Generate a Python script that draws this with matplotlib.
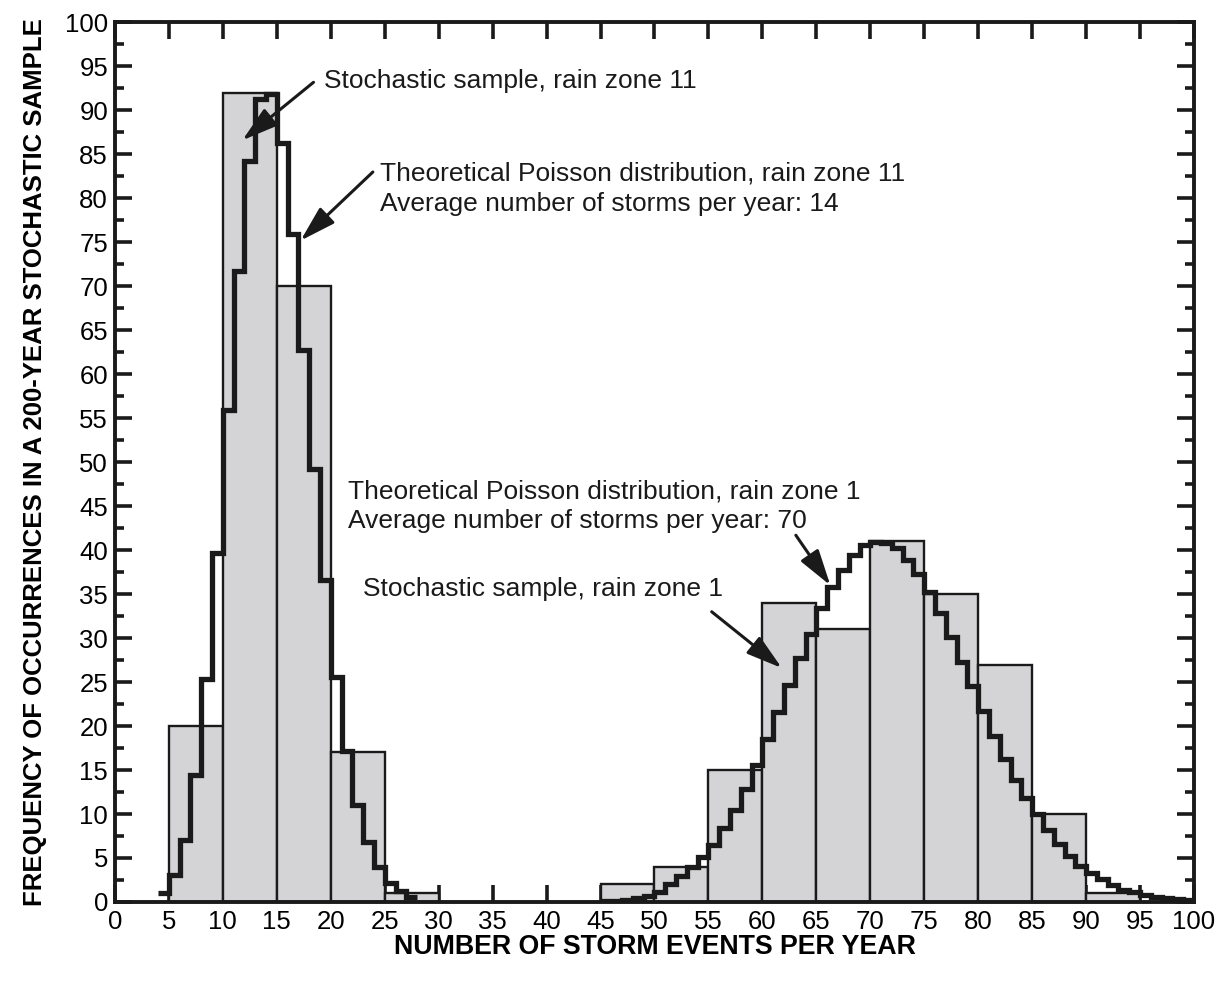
import numpy as np
import matplotlib.pyplot as plt
from matplotlib.ticker import MultipleLocator

plt.rcParams['font.family'] = ['Liberation Sans', 'DejaVu Sans']

# stochastic sample: number of years in each 5-storm bin
bin_left = [5, 10, 15, 20, 25, 45, 50, 55, 60, 65, 70, 75, 80, 85, 90]
bin_count = [20, 92, 70, 17, 1, 2, 4, 15, 34, 31, 41, 35, 27, 10, 1]

# theoretical Poisson curves, one step per storm count
zone11_start = 4
zone11_freq = [1.0, 3.1, 7.1, 14.4, 25.3, 39.7, 55.9, 71.7, 84.2, 91.3,
               91.9, 86.3, 75.9, 62.8, 49.2, 36.6, 25.6, 17.2, 11.0, 6.8,
               4.0, 2.2, 1.3, 0.6]
zone1_start = 45
zone1_freq = [0.1, 0.15, 0.25, 0.4, 0.7, 1.1, 2.0, 2.9, 4.0, 5.1,
              6.5, 8.4, 10.5, 12.9, 15.6, 18.5, 21.6, 24.7, 27.7, 30.5,
              33.4, 35.8, 37.8, 39.4, 40.6, 40.9, 40.8, 40.2, 38.9, 37.3,
              35.3, 32.8, 30.1, 27.3, 24.5, 21.7, 18.9, 16.3, 13.9, 11.8,
              10.0, 8.2, 6.6, 5.2, 4.1, 3.3, 2.6, 1.9, 1.4, 1.1,
              0.8, 0.6, 0.4, 0.3, 0.2]

fig = plt.figure(figsize=(12.23, 9.82), dpi=100)
ax = fig.add_axes([0.094, 0.0815, 0.8823, 0.8956])

ax.bar(bin_left, bin_count, width=5, align='edge', color='#d4d4d6',
       edgecolor='#1a1a1a', linewidth=1.7, zorder=2)

for start, freq in [(zone11_start, zone11_freq), (zone1_start, zone1_freq)]:
    edges = np.arange(start, start + len(freq) + 1)
    ax.stairs(freq, edges, baseline=None, color='#1a1a1a', linewidth=3.8,
              zorder=3)

ax.set_xlim(0, 100)
ax.set_ylim(0, 100)
ax.xaxis.set_major_locator(MultipleLocator(5))
ax.yaxis.set_major_locator(MultipleLocator(5))
ax.yaxis.set_minor_locator(MultipleLocator(2.5))
ax.tick_params(axis='both', which='major', direction='in', length=12.5,
               width=2.6, labelsize=18.5, top=True, right=True, color='#1a1a1a')
ax.tick_params(axis='y', which='minor', direction='in', length=6.5,
               width=2.6, right=True, color='#1a1a1a')
ax.tick_params(axis='x', which='major', pad=6)
ax.tick_params(axis='y', which='major', pad=5)
for sp in ax.spines.values():
    sp.set_linewidth(2.8)
    sp.set_color('#1a1a1a')

ax.set_xlabel('NUMBER OF STORM EVENTS PER YEAR', fontsize=19.3,
              fontweight='bold', labelpad=0)
ax.set_ylabel('FREQUENCY OF OCCURRENCES IN A 200-YEAR STOCHASTIC SAMPLE',
              fontsize=18.5, fontweight='bold', labelpad=13)

arrow = dict(arrowstyle='-|>,head_length=2.2,head_width=0.65',
             mutation_scale=10, color='#1a1a1a', lw=2.2,
             shrinkA=0, shrinkB=0)
txt = dict(fontsize=19, color='#1a1a1a', linespacing=1.3)

ax.text(19.35, 93.3, 'Stochastic sample, rain zone 11', va='center', **txt)
ax.annotate('', xy=(11.8, 86.6), xytext=(18.4, 93.2), arrowprops=arrow)

ax.text(24.6, 81.1, 'Theoretical Poisson distribution, rain zone 11\n'
        'Average number of storms per year: 14', va='center', **txt)
ax.annotate('', xy=(17.2, 75.2), xytext=(23.9, 83.0), arrowprops=arrow)

ax.text(21.6, 45.0, 'Theoretical Poisson distribution, rain zone 1\n'
        'Average number of storms per year: 70', va='center', **txt)
ax.annotate('', xy=(66.3, 36.0), xytext=(63.1, 41.7), arrowprops=arrow)

ax.text(23.0, 35.6, 'Stochastic sample, rain zone 1', va='center', **txt)
ax.annotate('', xy=(61.8, 26.6), xytext=(55.3, 33.0), arrowprops=arrow)

fig.savefig('out.png', dpi=100)
